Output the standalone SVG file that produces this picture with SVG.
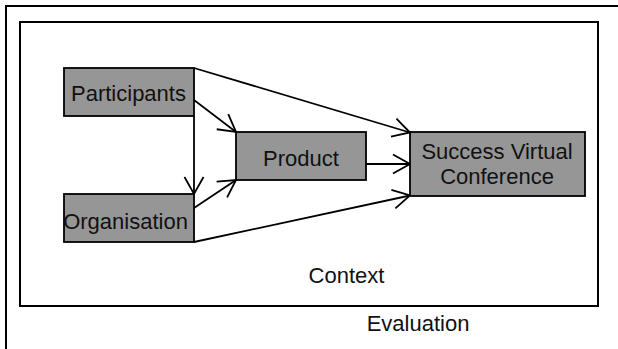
<svg xmlns="http://www.w3.org/2000/svg" width="618" height="349" viewBox="0 0 618 349">
  <defs>
    <style>
      .frame { fill: none; stroke: #000; stroke-width: 2; }
      .box { fill: #969696; stroke: #000; stroke-width: 1.8; }
      .lbl { font-family: "Liberation Sans", Arial, sans-serif; font-size: 22px; fill: #111; text-anchor: middle; }
      .edge { fill: none; stroke: #000; stroke-width: 1.8; marker-end: url(#arrow); }
    </style>
    <marker id="arrow" markerUnits="userSpaceOnUse" viewBox="-19 -11 21 22" refX="0" refY="0" markerWidth="21" markerHeight="22" orient="auto">
      <path d="M-17,-9.5 L0,0 L-17,9.5" fill="none" stroke="#000" stroke-width="1.8"/>
    </marker>
  </defs>
  <rect width="618" height="349" fill="#fff"/>

  <!-- outer evaluation frame (runs off the right and bottom edges) -->
  <g id="evaluation">
    <path class="frame" d="M6,352 L6,6 L622,6"/>
    <text class="lbl" x="418" y="331">Evaluation</text>
  </g>

  <!-- inner context frame -->
  <g id="context">
    <rect class="frame" x="20" y="22" width="578" height="284"/>
    <text class="lbl" x="346.5" y="283">Context</text>
  </g>

  <g id="connectors">
    <line class="edge" x1="194" y1="68" x2="410" y2="132.5"/>
    <line class="edge" x1="194" y1="100" x2="236" y2="132"/>
    <line class="edge" x1="194" y1="116" x2="194" y2="194"/>
    <line class="edge" x1="194" y1="208" x2="236" y2="180"/>
    <line class="edge" x1="194" y1="242" x2="410" y2="195.5"/>
    <line class="edge" x1="366" y1="164" x2="410" y2="164"/>
  </g>

  <g id="participants">
    <rect class="box" x="64" y="68" width="130" height="48"/>
    <text class="lbl" x="128.5" y="101">Participants</text>
  </g>

  <g id="organisation">
    <rect class="box" x="64" y="194" width="130" height="48"/>
    <text class="lbl" x="125.5" y="229">Organisation</text>
  </g>

  <g id="product">
    <rect class="box" x="236" y="132" width="130" height="48"/>
    <text class="lbl" x="301" y="166">Product</text>
  </g>

  <g id="success">
    <rect class="box" x="410" y="132" width="175" height="64"/>
    <text class="lbl" x="497" y="159">Success Virtual</text>
    <text class="lbl" x="497" y="184">Conference</text>
  </g>
</svg>
